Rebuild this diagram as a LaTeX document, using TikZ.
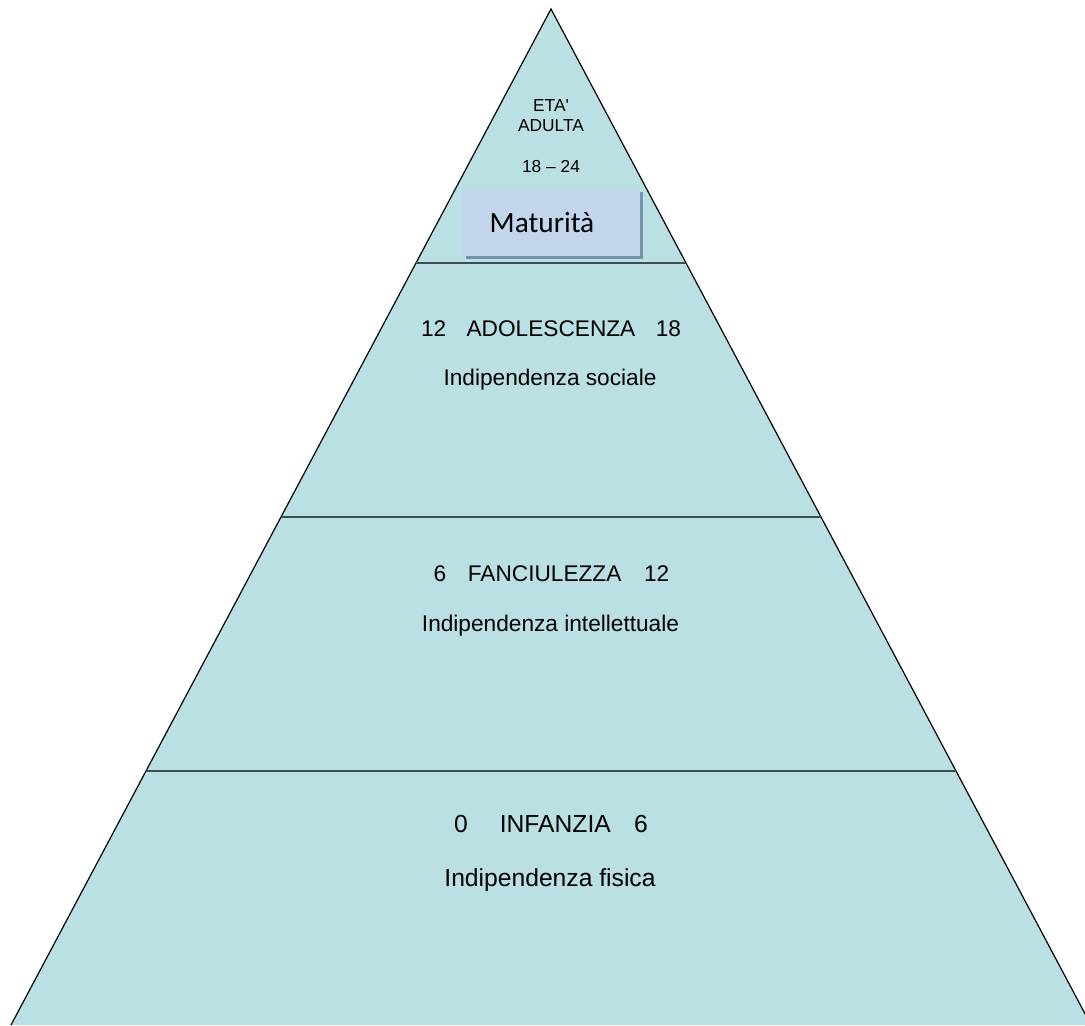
\documentclass[tikz,border=0pt]{standalone}
\usepackage{fontspec}
\setmainfont{Liberation Sans}
\newfontfamily\matfont{Carlito}
\usetikzlibrary{calc,shadows}
\definecolor{pyrfill}{RGB}{186,224,227}
\definecolor{boxfill}{RGB}{194,213,236}
\definecolor{boxshadow}{RGB}{118,146,172}
\definecolor{bandgray}{RGB}{60,78,84}
\tikzset{
  pyramid/.style={draw=black, line width=0.9pt},
  bandline/.style={draw=bandgray, line width=2pt},
  matbox/.style={fill=boxfill, minimum width=132.75pt, minimum height=50.25pt,
    drop shadow={shadow xshift=2.25pt, shadow yshift=-2.25pt, fill=boxshadow, opacity=1}},
  toplbl/.style={anchor=base, inner sep=0pt, font=\fontsize{13}{15}\selectfont},
  agelbl/.style={anchor=base, inner sep=0pt, font=\fontsize{17}{20}\selectfont},
  baselbl/.style={anchor=base, inner sep=0pt, font=\fontsize{18.5}{22}\selectfont},
}

\begin{document}
\begin{tikzpicture}[x=0.75pt,y=0.75pt]
  \useasboundingbox (0,0) rectangle (1085,1025);
  \clip (0,0) rectangle (1085,1025);

  % Pyramid corners
  \coordinate (apex) at (551,1016);
  \coordinate (bl)   at (11,0);
  \coordinate (br)   at (1091,0);

  % Band boundaries
  \foreach \t/\n in {0.25/a, 0.5/b, 0.75/c} {
    \coordinate (l\n) at ($(apex)!\t!(bl)$);
    \coordinate (r\n) at ($(apex)!\t!(br)$);
  }

  \fill[pyrfill] (apex) -- (bl) -- (br) -- cycle;
  \draw[pyramid] (bl) -- (apex) -- (br);

  \draw[bandline] (la) -- (ra);
  \draw[bandline] (lb) -- (rb);
  \draw[bandline] (lc) -- (rc);

  % Top
  \node[toplbl] (eta)    at (551,913.5) {ETA\textquotesingle};
  \node[toplbl] (adulta) at (551,893)   {ADULTA};
  \node[toplbl] (range)  at (551,852)   {18 – 24};
  \node[matbox] (mat)    at (551.5,802.5) {};
  \node[anchor=base, inner sep=0pt, font=\matfont\fontsize{22}{24}\selectfont]
    (mattext) at (542,792) {Maturità};

  % Bands
  \node[agelbl] (adol)   at (551,688) {12\hspace{0.9em}ADOLESCENZA\hspace{0.9em}18};
  \node[agelbl] (sociale) at (550,639) {Indipendenza sociale};

  \node[agelbl] (fanc)   at (551.5,443) {6\hspace{0.95em}FANCIULEZZA\hspace{1em}12};
  \node[agelbl] (intel)  at (550.5,393) {Indipendenza intellettuale};

  \node[baselbl] (inf)   at (551,192) {0\hspace{1.3em}INFANZIA\hspace{0.95em}6};
  \node[baselbl] (fisica) at (550,139) {Indipendenza fisica};

\end{tikzpicture}
\end{document}
